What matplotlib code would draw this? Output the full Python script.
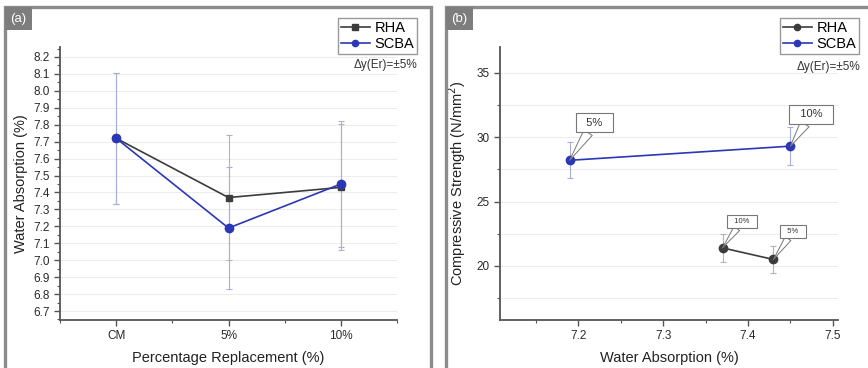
import numpy as np
import matplotlib
matplotlib.use("Agg")
import matplotlib.pyplot as plt
from matplotlib.patches import Rectangle
from matplotlib.ticker import MultipleLocator

# panel (a): water absorption vs replacement level
categories = ["CM", "5%", "10%"]
wa_rha = [7.72, 7.37, 7.43]
wa_scba = [7.72, 7.19, 7.45]

# panel (b): compressive strength vs water absorption
scba_wa = [7.19, 7.45]
scba_cs = [28.2, 29.3]
scba_lbl = ["5%", "10%"]
rha_wa = [7.37, 7.43]
rha_cs = [21.4, 20.5]
rha_lbl = ["10%", "5%"]

err_pct = 0.05  # Δy(Er) = ±5%

c_rha = "#3c3c3c"
c_scba = "#2b37b5"
e_rha = "#b4b4b4"
e_scba = "#a9aedb"
spine_c = "#555555"

plt.rcParams["font.family"] = ["Liberation Sans", "DejaVu Sans"]

fig = plt.figure(figsize=(8.68, 3.68), dpi=100)
W, H = 868, 368


def px_axes(l, t, r, b):
    return fig.add_axes([l / W, 1 - b / H, (r - l) / W, (b - t) / H])


def style(ax):
    for s in ("top", "right"):
        ax.spines[s].set_visible(False)
    for s in ("left", "bottom"):
        ax.spines[s].set_color(spine_c)
        ax.spines[s].set_linewidth(1.3)
    ax.tick_params(which="major", direction="out", length=4, width=1,
                   color=spine_c, labelsize=8.5, labelcolor="#2a2a2a")
    ax.tick_params(which="minor", direction="out", length=2.5, width=0.8,
                   color=spine_c)
    ax.set_axisbelow(True)


# panel frames and labels
for x0, x1, lab in [(5, 431, "(a)"), (446, 880, "(b)")]:
    fig.patches.append(Rectangle((x0 / W, -0.05), (x1 - x0) / W, 1.05 - 7 / H,
                                 transform=fig.transFigure, fill=False,
                                 ec="#8c8c8c", lw=2.4))
    fig.patches.append(Rectangle((x0 / W, 1 - 30 / H), 27 / W, 23 / H,
                                 transform=fig.transFigure, fc="#7d7d7d",
                                 ec="none"))
    fig.text((x0 + 13.5) / W, 1 - 19 / H, lab, color="white", fontsize=9.5,
             ha="center", va="center")

leg_kw = dict(loc="upper right", bbox_transform=fig.transFigure,
              borderaxespad=0, fontsize=10.5, frameon=True, fancybox=False,
              edgecolor="#999999", framealpha=1, handlelength=2.0,
              handletextpad=0.3, borderpad=0.2, labelspacing=0.15,
              markerscale=0.75)

# ---- panel (a)
ax1 = px_axes(60, 47, 397, 320)
style(ax1)
x = np.arange(len(categories))
ax1.errorbar(x, wa_rha, yerr=np.array(wa_rha) * err_pct, fmt="none",
             ecolor=e_rha, elinewidth=0.8, capsize=2, capthick=0.8, zorder=1)
ax1.errorbar(x, wa_scba, yerr=np.array(wa_scba) * err_pct, fmt="none",
             ecolor=e_scba, elinewidth=0.8, capsize=2, capthick=0.8, zorder=1)
ax1.plot(x, wa_rha, color=c_rha, marker="s", ms=5, lw=1.2, label="RHA", zorder=3)
ax1.plot(x, wa_scba, color=c_scba, marker="o", ms=6, lw=1.2, label="SCBA", zorder=4)
ax1.set_xlim(-0.5, 2.5)
ax1.set_ylim(6.647, 8.259)
ax1.set_xticks(x)
ax1.set_xticklabels(categories)
ax1.xaxis.set_minor_locator(MultipleLocator(0.5))
ax1.set_yticks(np.round(np.arange(6.7, 8.21, 0.1), 1))
ax1.yaxis.set_minor_locator(MultipleLocator(0.05))
ax1.yaxis.grid(True, color="#ececec", lw=0.7)
ax1.set_xlabel("Percentage Replacement (%)", fontsize=10.5, color="#222222", labelpad=6)
ax1.set_ylabel("Water Absorption (%)", fontsize=10.5, color="#222222", labelpad=4)
ax1.legend(bbox_to_anchor=(417 / W, 1 - 18 / H), **leg_kw)
fig.text(417 / W, 1 - 65 / H, "Δy(Er)=±5%", fontsize=8.5, ha="right",
         va="center", color="#333333")

# ---- panel (b)
ax2 = px_axes(500, 47, 838, 320)
style(ax2)
ax2.errorbar(rha_wa, rha_cs, yerr=np.array(rha_cs) * err_pct, fmt="none",
             ecolor=e_rha, elinewidth=0.8, capsize=2, capthick=0.8, zorder=1)
ax2.errorbar(scba_wa, scba_cs, yerr=np.array(scba_cs) * err_pct, fmt="none",
             ecolor=e_scba, elinewidth=0.8, capsize=2, capthick=0.8, zorder=1)
ax2.plot(rha_wa, rha_cs, color=c_rha, marker="o", ms=6, lw=1.2, label="RHA", zorder=3)
ax2.plot(scba_wa, scba_cs, color=c_scba, marker="o", ms=6, lw=1.2, label="SCBA", zorder=4)
ax2.set_xlim(7.108, 7.506)
ax2.set_ylim(15.8, 37.0)
ax2.set_xticks([7.2, 7.3, 7.4, 7.5])
ax2.xaxis.set_minor_locator(MultipleLocator(0.05))
ax2.set_yticks([20, 25, 30, 35])
ax2.yaxis.set_minor_locator(MultipleLocator(2.5))
ax2.yaxis.grid(True, which="both", color="#ececec", lw=0.7)
ax2.set_xlabel("Water Absorption (%)", fontsize=10.5, color="#222222", labelpad=6)
ax2.set_ylabel("Compressive Strength (N/mm$^2$)", fontsize=10.5, color="#222222", labelpad=6)
ax2.legend(bbox_to_anchor=(859 / W, 1 - 18 / H), **leg_kw)
fig.text(860 / W, 1 - 67 / H, "Δy(Er)=±5%", fontsize=8.5, ha="right",
         va="center", color="#333333")


def callout(ax, txt, xy, off, fs):
    ax.annotate(txt, xy=xy, xytext=off, textcoords="offset points",
                fontsize=fs, ha="center", va="center", color="#333333",
                bbox=dict(boxstyle="square,pad=0.4", fc="white",
                          ec="#777777", lw=0.8),
                arrowprops=dict(arrowstyle="wedge,tail_width=0.9",
                                fc="white", ec="#777777", lw=0.7,
                                shrinkA=0, shrinkB=0),
                zorder=6)


for wa, cs, lb, off in zip(scba_wa, scba_cs, scba_lbl, [(18, 27), (15, 23)]):
    callout(ax2, "  %s  " % lb, (wa, cs), off, 8)
for wa, cs, lb, off in zip(rha_wa, rha_cs, rha_lbl, [(14, 19), (14, 20)]):
    callout(ax2, "  %s  " % lb, (wa, cs), off, 5.5)

fig.savefig("out.png", dpi=100)
